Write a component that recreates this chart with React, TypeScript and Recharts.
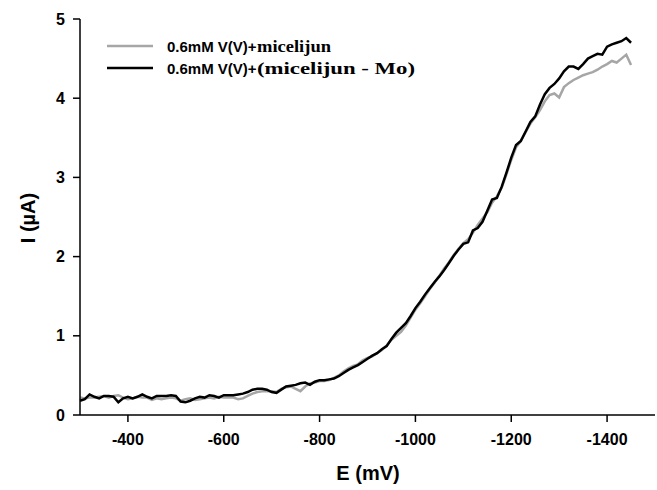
import React from 'react';
import { LineChart, Line, XAxis, YAxis, Label } from 'recharts';

const potentials = [
  -300, -310, -320, -330, -340, -350, -360, -370, -380, -390,
  -400, -410, -420, -430, -440, -450, -460, -470, -480, -490,
  -500, -510, -520, -530, -540, -550, -560, -570, -580, -590,
  -600, -610, -620, -630, -640, -650, -660, -670, -680, -690,
  -700, -710, -720, -730, -740, -750, -760, -770, -780, -790,
  -800, -810, -820, -830, -840, -850, -860, -870, -880, -890,
  -900, -910, -920, -930, -940, -950, -960, -970, -980, -990,
  -1000, -1010, -1020, -1030, -1040, -1050, -1060, -1070, -1080, -1090,
  -1100, -1110, -1120, -1130, -1140, -1150, -1160, -1170, -1180, -1190,
  -1200, -1210, -1220, -1230, -1240, -1250, -1260, -1270, -1280, -1290,
  -1300, -1310, -1320, -1330, -1340, -1350, -1360, -1370, -1380, -1390,
  -1400, -1410, -1420, -1430, -1440, -1450,
];

const micelijun = [
  0.22, 0.21, 0.22, 0.22, 0.23, 0.24, 0.22, 0.24, 0.25, 0.22,
  0.20, 0.21, 0.23, 0.22, 0.22, 0.19, 0.21, 0.20, 0.21, 0.22,
  0.21, 0.18, 0.20, 0.21, 0.19, 0.20, 0.21, 0.22, 0.21, 0.23,
  0.22, 0.22, 0.22, 0.20, 0.21, 0.24, 0.27, 0.29, 0.30, 0.30,
  0.30, 0.29, 0.33, 0.35, 0.36, 0.33, 0.30, 0.36, 0.40, 0.41,
  0.43, 0.43, 0.44, 0.47, 0.50, 0.55, 0.59, 0.62, 0.64, 0.69,
  0.72, 0.74, 0.78, 0.82, 0.88, 0.95, 1.00, 1.05, 1.13, 1.23,
  1.33, 1.41, 1.50, 1.59, 1.67, 1.76, 1.85, 1.93, 2.02, 2.10,
  2.17, 2.22, 2.30, 2.40, 2.48, 2.56, 2.68, 2.76, 2.87, 3.04,
  3.22, 3.38, 3.46, 3.57, 3.68, 3.76, 3.85, 3.96, 4.04, 4.06,
  4.01, 4.14, 4.19, 4.23, 4.26, 4.29, 4.31, 4.33, 4.36, 4.40,
  4.43, 4.47, 4.45, 4.50, 4.55, 4.42,
];

const micelijunMinusMo = [
  0.18, 0.20, 0.26, 0.23, 0.21, 0.24, 0.24, 0.23, 0.16, 0.21,
  0.23, 0.21, 0.23, 0.26, 0.23, 0.21, 0.24, 0.24, 0.24, 0.25,
  0.24, 0.17, 0.16, 0.18, 0.21, 0.23, 0.22, 0.25, 0.24, 0.22,
  0.25, 0.25, 0.25, 0.26, 0.27, 0.29, 0.32, 0.33, 0.33, 0.32,
  0.29, 0.28, 0.32, 0.36, 0.37, 0.38, 0.40, 0.41, 0.38, 0.42,
  0.44, 0.44, 0.45, 0.46, 0.49, 0.53, 0.57, 0.60, 0.63, 0.67,
  0.71, 0.75, 0.78, 0.83, 0.87, 0.96, 1.04, 1.10, 1.16, 1.25,
  1.35, 1.43, 1.52, 1.60, 1.68, 1.75, 1.83, 1.92, 2.01, 2.09,
  2.16, 2.18, 2.33, 2.36, 2.44, 2.58, 2.72, 2.74, 2.88, 3.06,
  3.25, 3.41, 3.46, 3.58, 3.70, 3.77, 3.92, 4.05, 4.13, 4.18,
  4.25, 4.34, 4.40, 4.40, 4.37, 4.43, 4.50, 4.53, 4.56, 4.55,
  4.65, 4.68, 4.70, 4.72, 4.76, 4.70,
];

const xTicks = [-400, -600, -800, -1000, -1200, -1400];
const yTicks = [0, 1, 2, 3, 4, 5];
const legendPrefix = '0.6mM V(V)+';
const legendSuffixes = ['micelijun', '(micelijun - Mo)'];
const seriesColors = ['#a6a6a6', '#000000'];
const xTitle = 'E (mV)';
const yTitle = 'I (\u00b5A)';

const data = potentials.map((E, i) => ({
  E,
  gray: micelijun[i],
  black: micelijunMinusMo[i],
}));

const SANS = "'Liberation Sans', Arial, sans-serif";
const SERIF = "'Liberation Serif', 'Times New Roman', serif";

const LegendBox = () => (
  <svg
    width={340}
    height={50}
    style={{ position: 'absolute', left: 100, top: 32, display: 'block', pointerEvents: 'none' }}
  >
    {[0, 1].map((i) => {
      const y = 14 + i * 22;
      return (
        <g key={i}>
          <line x1={7} x2={53} y1={y} y2={y} stroke={seriesColors[i]} strokeWidth={2.5} />
          <text x={67} y={y + 5.5} fontFamily={SANS} fontWeight="bold" fontSize={15} fill="#000">
            {legendPrefix}
          </text>
          <text
            x={157}
            y={y + 5.5}
            fontFamily={SERIF}
            fontWeight="bold"
            fontSize={16}
            fill="#000"
            textLength={i === 0 ? 74 : 158}
            lengthAdjust="spacingAndGlyphs"
          >
            {legendSuffixes[i]}
          </text>
        </g>
      );
    })}
  </svg>
);

export default function App() {
  return (
    <div style={{ position: 'absolute', left: 0, top: 0, width: 657, height: 490, background: '#fff' }}>
      <LineChart
        width={657}
        height={490}
        data={data}
        margin={{ top: 19, right: 2, bottom: 0, left: 0 }}
      >
        <XAxis
          dataKey="E"
          type="number"
          domain={[-1500, -300]}
          reversed
          ticks={xTicks}
          tickSize={7}
          tickMargin={12}
          height={75}
          axisLine={{ stroke: '#000', strokeWidth: 1.5 }}
          tickLine={{ stroke: '#000', strokeWidth: 1.5 }}
          tick={{ fill: '#000', fontFamily: SANS, fontWeight: 'bold', fontSize: 16 }}
        >
          <Label
            content={() => (
              <text x={368} y={480} textAnchor="middle" fontFamily={SANS} fontWeight="bold" fontSize={20} fill="#000">
                {xTitle}
              </text>
            )}
          />
        </XAxis>
        <YAxis
          type="number"
          domain={[0, 5]}
          ticks={yTicks}
          width={80}
          tickSize={7}
          tickMargin={8}
          axisLine={{ stroke: '#000', strokeWidth: 1.5 }}
          tickLine={{ stroke: '#000', strokeWidth: 1.5 }}
          tick={{ fill: '#000', fontFamily: SANS, fontWeight: 'bold', fontSize: 16 }}
        >
          <Label
            content={() => (
              <text
                x={0}
                y={0}
                transform="translate(35 218) rotate(-90)"
                textAnchor="middle"
                fontFamily={SANS}
                fontWeight="bold"
                fontSize={20}
                fill="#000"
              >
                {yTitle}
              </text>
            )}
          />
        </YAxis>
        <Line
          type="linear"
          dataKey="gray"
          name={legendSuffixes[0]}
          stroke={seriesColors[0]}
          strokeWidth={2.5}
          dot={false}
          isAnimationActive={false}
        />
        <Line
          type="linear"
          dataKey="black"
          name={legendSuffixes[1]}
          stroke={seriesColors[1]}
          strokeWidth={2.5}
          dot={false}
          isAnimationActive={false}
        />
      </LineChart>
      <LegendBox />
    </div>
  );
}
